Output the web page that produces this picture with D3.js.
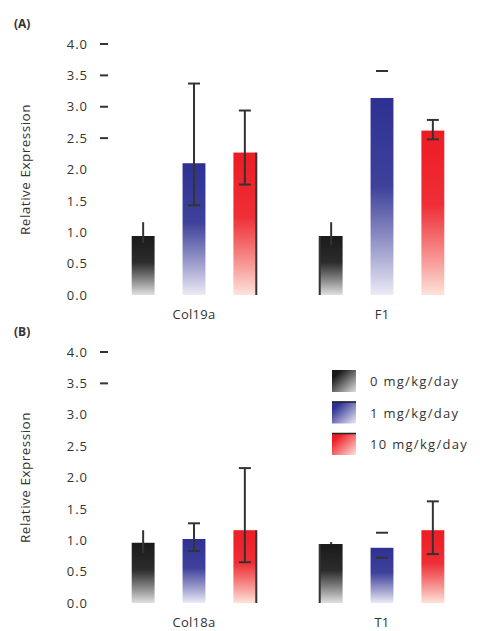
<!DOCTYPE html>
<html>
<head>
<meta charset="utf-8">
<script src="https://cdn.jsdelivr.net/npm/d3@7"></script>
<style>
  body { margin: 0; background: #fff; }
  text { font-family: "Open Sans", "DejaVu Sans", sans-serif; fill: #333; }
</style>
</head>
<body>
<svg width="480" height="631"></svg>
<script>
// data
const doses = ["0 mg/kg/day", "1 mg/kg/day", "10 mg/kg/day"];
const genesA = ["Col19a", "F1"];
const genesB = ["Col18a", "T1"];
const tickVals = [0, 0.5, 1, 1.5, 2, 2.5, 3, 3.5, 4];

const valuesA = [[0.94, 2.1, 2.27], [0.94, 3.14, 2.62]];
const upperA  = [[1.16, 3.37, 2.94], [1.16, 3.57, 2.79]];
const lowerA  = [[0.83, 1.43, 1.76], [0.80, 3.57, 2.48]];
const stemA   = [[true, true, true], [true, false, true]];

const valuesB = [[0.96, 1.02, 1.16], [0.94, 0.88, 1.16]];
const upperB  = [[1.16, 1.27, 2.15], [0.97, 1.12, 1.62]];
const lowerB  = [[0.80, 0.83, 0.65], [0.94, 0.72, 0.78]];
const stemB   = [[true, true, true], [true, false, true]];

const dashA = [2.5, 3, 3.5, 4];
const dashB = [3.5, 4];

const colors = ["#1a1a1a", "#2e3192", "#ed1c24"];
const lights = ["#e0e0e0", "#ecebf7", "#fde3da"];

const svg = d3.select("svg");
const defs = svg.append("defs");
colors.forEach((c, i) => {
  const g = defs.append("linearGradient").attr("id", "g" + i)
    .attr("x1", 0).attr("y1", 0).attr("x2", 0).attr("y2", 1);
  g.append("stop").attr("offset", "0%").attr("stop-color", c);
  g.append("stop").attr("offset", "45%").attr("stop-color", c).attr("stop-opacity", 0.92);
  g.append("stop").attr("offset", "100%").attr("stop-color", lights[i]);
  const l = defs.append("linearGradient").attr("id", "l" + i)
    .attr("x1", 0).attr("y1", 0).attr("x2", 1).attr("y2", 1);
  l.append("stop").attr("offset", "20%").attr("stop-color", c);
  l.append("stop").attr("offset", "100%").attr("stop-color", lights[i]);
});

const x1 = d3.scaleBand().domain(doses).range([-75, 75]).paddingInner(0.55).paddingOuter(0.25);

function panel(label, genes, values, upper, lower, stems, dashes, top, bottom) {
  const g = svg.append("g");
  const y = d3.scaleLinear().domain([0, 4]).range([bottom, top]);
  const x0 = d3.scalePoint().domain(genes).range([194, 382]);

  g.append("text").attr("x", 14).attr("y", top - 16)
    .attr("font-size", 12).attr("font-weight", "bold").text(label);

  g.append("g").attr("transform", "translate(92,0)")
    .call(d3.axisLeft(y).tickValues(tickVals).tickFormat(d3.format(".1f")).tickSize(0).tickPadding(4))
    .call(a => a.select(".domain").remove())
    .call(a => a.selectAll("text").attr("font-size", 13).attr("fill", "#333")
      .attr("letter-spacing", 1)
      .style("font-family", "'Open Sans', sans-serif"));

  g.selectAll(".dash").data(dashes).join("line")
    .attr("x1", 100).attr("x2", 108)
    .attr("y1", d => y(d)).attr("y2", d => y(d))
    .attr("stroke", "#333").attr("stroke-width", 2);

  g.append("text").attr("transform", `translate(30,${(top + bottom) / 2}) rotate(-90)`)
    .attr("text-anchor", "middle").attr("font-size", 13.5).attr("letter-spacing", 0.5)
    .text("Relative Expression");

  genes.forEach((gene, gi) => {
    const gg = g.append("g").attr("transform", `translate(${x0(gene)},0)`);
    const rows = doses.map((d, i) => ({ d, i, v: values[gi][i], hi: upper[gi][i], lo: lower[gi][i], stem: stems[gi][i] }));

    gg.selectAll("rect").data(rows).join("rect")
      .attr("x", r => x1(r.d)).attr("width", x1.bandwidth())
      .attr("y", r => y(r.v)).attr("height", r => y(0) - y(r.v))
      .attr("fill", r => `url(#g${r.i})`);

    // dark edge lines seen in the original between the two groups
    const edge = gi === 0 ? rows[2] : rows[0];
    const ex = gi === 0 ? x1(edge.d) + x1.bandwidth() : x1(edge.d);
    gg.append("line").attr("x1", ex).attr("x2", ex)
      .attr("y1", y(edge.v)).attr("y2", y(0))
      .attr("stroke", "#333").attr("stroke-width", 2);

    const cx = r => x1(r.d) + x1.bandwidth() / 2;
    gg.selectAll(".stem").data(rows.filter(r => r.stem && r.hi - r.lo > 0.02))
      .join("line")
      .attr("x1", cx).attr("x2", cx)
      .attr("y1", r => y(r.hi)).attr("y2", r => y(r.lo))
      .attr("stroke", "#333").attr("stroke-width", 2);

    const caps = [];
    rows.filter(r => r.i > 0).forEach(r => { caps.push({ r, v: r.hi }); if (r.lo < r.v) caps.push({ r, v: r.lo }); });
    gg.selectAll(".cap").data(caps).join("line")
      .attr("x1", c => cx(c.r) - 6).attr("x2", c => cx(c.r) + 6)
      .attr("y1", c => y(c.v)).attr("y2", c => y(c.v))
      .attr("stroke", "#333").attr("stroke-width", 2);

    gg.append("text").attr("x", 0).attr("y", bottom + 24)
      .attr("text-anchor", "middle").attr("font-size", 13).attr("letter-spacing", 0.3).text(gene);
  });
  return y;
}

panel("(A)", genesA, valuesA, upperA, lowerA, stemA, dashA, 44, 295);
panel("(B)", genesB, valuesB, upperB, lowerB, stemB, dashB, 352, 603);

// legend
const leg = svg.append("g").attr("transform", "translate(332,370)");
const li = leg.selectAll("g").data(doses).join("g")
  .attr("transform", (d, i) => `translate(0,${i * 31.5})`);
li.append("rect").attr("width", 24).attr("height", 22).attr("fill", (d, i) => `url(#l${i})`);
li.filter((d, i) => i > 0).append("line").attr("x1", 0).attr("x2", 24)
  .attr("y1", 0.5).attr("y2", 0.5).attr("stroke", "#222").attr("stroke-width", 1.5);
li.append("text").attr("x", 38).attr("y", 16).attr("font-size", 13).attr("letter-spacing", 1.3).text(d => d);
</script>
</body>
</html>
